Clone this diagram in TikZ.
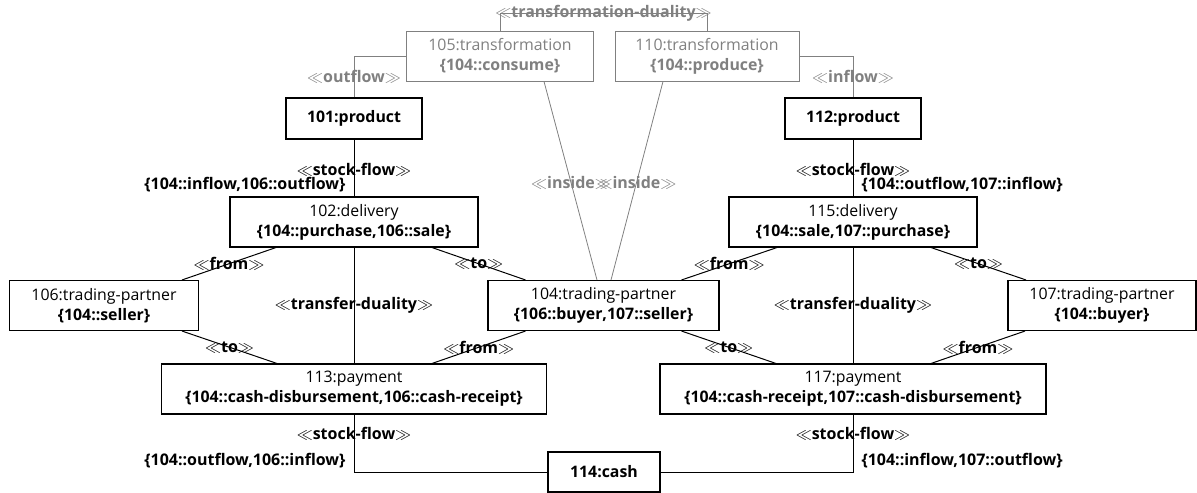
\documentclass[tikz,border=0pt]{standalone}
\usepackage{fontspec}
\setmainfont{Open Sans}
\usepackage{tikz}
\usetikzlibrary{positioning,calc}

\begin{document}
\begin{tikzpicture}[x=0.75pt,y=-0.75pt,font=\fontsize{11.9}{15}\selectfont]
  \tikzstyle{objbox}=[rectangle,draw=black,line width=0.8pt,inner sep=0pt,
  			  align=center,minimum height=37.5pt]
  \tikzstyle{ghostbox}=[objbox,draw=black!50,text=black!50,line width=0.7pt]
  \tikzstyle{flowline}=[line width=0.75pt]
  \tikzstyle{ghostline}=[line width=0.6pt,draw=black!50]
  \tikzstyle{stereo}=[font=\fontsize{12}{14}\selectfont\bfseries,inner sep=1pt]
  \tikzstyle{ghoststereo}=[stereo,text=black!50]

  \useasboundingbox (0,0) rectangle (1197,493);

  % transformations
  \node [ghostbox,minimum width=140.25pt] (n105) at (500,56) {105:transformation\\\textbf{\{104::consume\}}};
  \node [ghostbox,minimum width=138pt] (n110) at (707,56) {110:transformation\\\textbf{\{104::produce\}}};

  % products and deliveries
  \node [objbox,minimum width=102pt,minimum height=30.75pt] (n101) at (354,118.5) {\textbf{101:product}};
  \node [objbox,minimum width=102pt,minimum height=30.75pt] (n112) at (853,118.5) {\textbf{112:product}};
  \node [objbox,minimum width=186pt] (n102) at (354,222) {102:delivery\\\textbf{\{104::purchase,106::sale\}}};
  \node [objbox,minimum width=186pt] (n115) at (853,222) {115:delivery\\\textbf{\{104::sale,107::purchase\}}};

  % trading partners
  \node [objbox,minimum width=141.75pt] (n106) at (104,305.5) {106:trading-partner\\\textbf{\{104::seller\}}};
  \node [objbox,minimum width=173.25pt] (n104) at (603.5,305.5) {104:trading-partner\\\textbf{\{106::buyer,107::seller\}}};
  \node [objbox,minimum width=141pt] (n107) at (1102,305.5) {107:trading-partner\\\textbf{\{104::buyer\}}};

  % payments and cash
  \node [objbox,minimum width=288.75pt] (n113) at (354,389) {113:payment\\\textbf{\{104::cash-disbursement,106::cash-receipt\}}};
  \node [objbox,minimum width=289.5pt] (n117) at (853,389) {117:payment\\\textbf{\{104::cash-receipt,107::cash-disbursement\}}};
  \node [objbox,minimum width=84pt,minimum height=30pt] (n114) at (604,472) {\textbf{114:cash}};

  % grey links
  \draw [ghostline] (n105.north) -- ++(0,-17) coordinate (tdl) -- (tdl -| n110.north)
    node [ghoststereo,midway] {$\ll$transformation-duality$\gg$} -- (n110.north);
  \draw [ghostline] (n105.west) -| (n101.north) node [ghoststereo,pos=0.75] {$\ll$outflow$\gg$};
  \draw [ghostline] (n110.east) -| (n112.north) node [ghoststereo,pos=0.75] {$\ll$inflow$\gg$};
  \draw [ghostline] ($(n105.south)+(44,0)$) -- ($(n104.north)+(-6.5,0)$)
    node [ghoststereo,pos=0.51] {$\ll$inside$\gg$};
  \draw [ghostline] ($(n110.south)+(-44,0)$) -- ($(n104.north)+(7.5,0)$)
    node [ghoststereo,pos=0.51] {$\ll$inside$\gg$};

  % stock flows
  \draw [flowline] (n101) -- (n102) node [stereo,pos=0.53] {$\ll$stock-flow$\gg$}
    node [stereo,pos=0.79,anchor=east,xshift=-5pt] {\{104::inflow,106::outflow\}};
  \draw [flowline] (n112) -- (n115) node [stereo,pos=0.53] {$\ll$stock-flow$\gg$}
    node [stereo,pos=0.79,anchor=west,xshift=5pt] {\{104::outflow,107::inflow\}};
  \draw [flowline] (n113) |- (n114) node [stereo,pos=0.165] {$\ll$stock-flow$\gg$}
    node [stereo,pos=0.405,anchor=east,xshift=-5pt] {\{104::outflow,106::inflow\}};
  \draw [flowline] (n117) |- (n114) node [stereo,pos=0.165] {$\ll$stock-flow$\gg$}
    node [stereo,pos=0.405,anchor=west,xshift=5pt] {\{104::inflow,107::outflow\}};

  % from / to
  \draw [flowline] ($(n102.south)+(-78,0)$) -- ($(n106.north)+(78,0)$) node [stereo,midway] {$\ll$from$\gg$};
  \draw [flowline] ($(n102.south)+(78,0)$) -- ($(n104.north)+(-78,0)$) node [stereo,midway] {$\ll$to$\gg$};
  \draw [flowline] ($(n115.south)+(-76,0)$) -- ($(n104.north)+(78,0)$) node [stereo,midway] {$\ll$from$\gg$};
  \draw [flowline] ($(n115.south)+(78,0)$) -- ($(n107.north)+(-76,0)$) node [stereo,midway] {$\ll$to$\gg$};
  \draw [flowline] ($(n106.south)+(78,0)$) -- ($(n113.north)+(-77,0)$) node [stereo,midway] {$\ll$to$\gg$};
  \draw [flowline] ($(n104.south)+(-78,0)$) -- ($(n113.north)+(78,0)$) node [stereo,midway] {$\ll$from$\gg$};
  \draw [flowline] ($(n104.south)+(78,0)$) -- ($(n117.north)+(-77,0)$) node [stereo,midway] {$\ll$to$\gg$};
  \draw [flowline] ($(n107.south)+(-77,0)$) -- ($(n117.north)+(78,0)$) node [stereo,midway] {$\ll$from$\gg$};

  % transfer dualities
  \draw [flowline] (n102) -- (n113) node [stereo,midway] {$\ll$transfer-duality$\gg$};
  \draw [flowline] (n115) -- (n117) node [stereo,midway] {$\ll$transfer-duality$\gg$};
\end{tikzpicture}
\end{document}
